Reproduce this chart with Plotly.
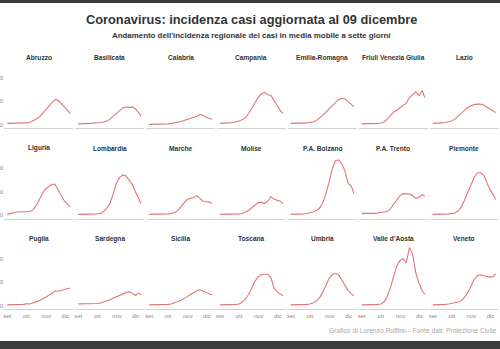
import pandas as pd
import plotly.graph_objects as go

# ---------------- data (7-day moving average incidence) ----------------
day_offsets = [0, 5, 10, 15, 20, 25, 30, 35, 40, 45, 50, 55, 60, 65, 70, 75, 80, 85, 90, 95, 99]
start_date = "2020-09-01"

regions = ["Abruzzo", "Basilicata", "Calabria", "Campania", "Emilia-Romagna",
           "Friuli Venezia Giulia", "Lazio",
           "Liguria", "Lombardia", "Marche", "Molise", "P.A. Bolzano", "P.A. Trento", "Piemonte",
           "Puglia", "Sardegna", "Sicilia", "Toscana", "Umbria", "Valle d'Aosta", "Veneto"]

abruzzo = [3, 3, 3, 3, 3, 3, 4, 5, 8, 12, 16, 24, 32, 38, 46, 54, 52, 46, 38, 30, 24]
basilicata = [2, 2, 2, 3, 3, 4, 4, 5, 6, 8, 12, 18, 26, 32, 36, 38, 37, 38, 34, 26, 18]
calabria = [1, 1, 1, 1, 2, 2, 2, 3, 4, 5, 7, 9, 11, 13, 15, 18, 22, 20, 16, 14, 12]
campania = [3, 3, 3, 4, 5, 6, 8, 11, 15, 24, 35, 48, 58, 66, 69, 64, 63, 52, 40, 30, 24]
emilia_romagna = [3, 3, 3, 3, 3, 4, 5, 6, 9, 14, 20, 27, 34, 42, 49, 54, 56, 55, 50, 42, 38]
friuli_vg = [2, 2, 2, 2, 3, 3, 4, 6, 12, 20, 27, 31, 36, 42, 46, 58, 64, 70, 62, 73, 58]
lazio = [3, 3, 3, 4, 5, 6, 8, 12, 18, 25, 32, 37, 40, 43, 44, 44, 42, 38, 33, 29, 26]
liguria = [2, 4, 6, 7, 7, 7, 7, 8, 11, 20, 32, 46, 56, 62, 66, 66, 54, 42, 30, 24, 18]
lombardia = [2, 2, 2, 2, 2, 2, 3, 4, 8, 15, 25, 45, 68, 80, 86, 84, 76, 66, 50, 36, 25]
marche = [2, 2, 3, 3, 3, 2, 3, 4, 6, 10, 18, 28, 34, 36, 38, 42, 36, 30, 29, 28, 25]
molise = [2, 2, 2, 2, 2, 2, 3, 4, 7, 10, 16, 22, 27, 28, 25, 30, 40, 34, 32, 30, 25]
pa_bolzano = [2, 2, 3, 3, 3, 4, 5, 7, 10, 15, 26, 45, 70, 98, 116, 118, 110, 94, 68, 62, 46]
pa_trento = [4, 4, 3, 4, 4, 5, 6, 7, 8, 14, 24, 34, 42, 46, 45, 45, 42, 36, 38, 44, 40]
piemonte = [2, 2, 2, 2, 2, 3, 4, 5, 9, 18, 32, 48, 64, 80, 90, 91, 86, 70, 55, 44, 34]
puglia = [2, 2, 2, 3, 3, 3, 4, 4, 6, 8, 11, 14, 18, 22, 26, 32, 31, 33, 35, 36, 38]
sardegna = [4, 4, 4, 4, 5, 5, 5, 6, 8, 10, 13, 16, 19, 23, 26, 28, 30, 27, 22, 27, 24]
sicilia = [2, 2, 2, 2, 2, 3, 3, 4, 6, 9, 12, 15, 19, 24, 28, 32, 34, 31, 27, 25, 23]
toscana = [2, 2, 2, 2, 3, 3, 4, 8, 14, 24, 38, 52, 62, 66, 67, 67, 60, 38, 30, 24, 21]
umbria = [2, 2, 2, 2, 3, 3, 4, 6, 10, 17, 28, 44, 58, 66, 69, 66, 54, 42, 33, 26, 21]
valle_daosta = [2, 2, 3, 3, 3, 3, 4, 8, 20, 38, 62, 84, 96, 100, 92, 124, 110, 70, 48, 32, 25]
veneto = [2, 2, 2, 3, 3, 4, 5, 6, 8, 11, 18, 28, 42, 55, 64, 66, 64, 63, 61, 62, 68]

series = [abruzzo, basilicata, calabria, campania, emilia_romagna, friuli_vg, lazio,
          liguria, lombardia, marche, molise, pa_bolzano, pa_trento, piemonte,
          puglia, sardegna, sicilia, toscana, umbria, valle_daosta, veneto]

month_ticks = ["2020-09-01", "2020-10-01", "2020-11-01", "2020-12-01"]
month_labels = ["set", "ott", "nov", "dic"]
y_ticks = [0, 50, 100]
y_labels = ["0", "50", "100"]

title_text = "Coronavirus: incidenza casi aggiornata al 09 dicembre"
subtitle_text = "Andamento dell'incidenza regionale dei casi in media mobile a sette giorni"
caption_text = "Grafico di Lorenzo Ruffino - Fonte dati: Protezione Civile"

# ---------------- figure ----------------
W, H = 500, 349
dates = pd.Timestamp(start_date) + pd.to_timedelta(day_offsets, unit="D")
x_range = [pd.Timestamp(start_date) - pd.Timedelta(days=5),
           pd.Timestamp(start_date) + pd.Timedelta(days=104)]
y_range = [-7.5, 131]

FONT = "Liberation Sans, Arial, Helvetica, sans-serif"
LINE_COLOR = "#e07676"
TEXT_COLOR = "#333333"

fig = go.Figure()
layout = dict(
    width=W, height=H,
    margin=dict(l=0, r=0, t=0, b=0),
    paper_bgcolor="white", plot_bgcolor="white",
    showlegend=False,
    font=dict(family=FONT, color=TEXT_COLOR),
)

annotations = []
col_pitch, col_left0, col_w = 70.9, 4.1, 69.3
row_pitch, zero0, px_per_unit = 90.5, 124.8, 0.47

for i, (name, vals) in enumerate(zip(regions, series)):
    r, c = divmod(i, 7)
    k = i + 1
    xa = "xaxis" if k == 1 else f"xaxis{k}"
    ya = "yaxis" if k == 1 else f"yaxis{k}"
    left = col_left0 + col_pitch * c
    zero_px = zero0 + row_pitch * r
    top_px = zero_px - y_range[1] * px_per_unit
    bot_px = zero_px - y_range[0] * px_per_unit

    fig.add_trace(go.Scatter(
        x=dates, y=vals, mode="lines",
        line=dict(color=LINE_COLOR, width=1.1),
        xaxis=f"x{'' if k == 1 else k}", yaxis=f"y{'' if k == 1 else k}",
        hoverinfo="skip",
    ))

    layout[xa] = dict(
        domain=[left / W, (left + col_w) / W],
        range=x_range, type="date",
        showgrid=False, zeroline=False,
        showline=True, linecolor="#d2d2d2", linewidth=1,
        tickvals=month_ticks, ticktext=month_labels,
        showticklabels=(r == 2), ticks="",
        tickfont=dict(size=6, color="#8a8a8a"),
        anchor=f"y{'' if k == 1 else k}",
    )
    layout[ya] = dict(
        domain=[1 - bot_px / H, 1 - top_px / H],
        range=y_range,
        showgrid=False, zeroline=False, showline=False,
        tickvals=y_ticks, ticktext=y_labels,
        showticklabels=(c == 0), ticks="",
        tickfont=dict(size=6, color="#8a8a8a"),
        automargin=False,
        anchor=f"x{'' if k == 1 else k}",
    )
    annotations.append(dict(
        text=f"<b>{name}</b>", x=(left + col_w / 2) / W, y=1 - (57.7 + row_pitch * r) / H,
        xref="paper", yref="paper", showarrow=False,
        xanchor="center", yanchor="middle",
        font=dict(size=6.6, color=TEXT_COLOR, family=FONT),
    ))

annotations += [
    dict(text=f"<b>{title_text}</b>", x=251 / W, y=1 - 19.3 / H, xref="paper", yref="paper",
         showarrow=False, xanchor="center", yanchor="middle",
         font=dict(size=12.8, color=TEXT_COLOR, family=FONT)),
    dict(text=f"<b>{subtitle_text}</b>", x=251 / W, y=1 - 35 / H, xref="paper", yref="paper",
         showarrow=False, xanchor="center", yanchor="middle",
         font=dict(size=7.9, color=TEXT_COLOR, family=FONT)),
    dict(text=caption_text, x=498 / W, y=1 - 330.7 / H, xref="paper", yref="paper",
         showarrow=False, xanchor="right", yanchor="middle",
         font=dict(size=6.7, color="#a8a8a8", family=FONT)),
]
layout["annotations"] = annotations
layout["shapes"] = [
    dict(type="rect", xref="paper", yref="paper", x0=0, x1=1, y0=1 - 3 / H, y1=1,
         fillcolor="#3b3b3b", line=dict(width=0), layer="above"),
    dict(type="rect", xref="paper", yref="paper", x0=0, x1=1, y0=0, y1=8 / H,
         fillcolor="#3b3b3b", line=dict(width=0), layer="above"),
]
fig.update_layout(**layout)
fig.write_html("out.html")
